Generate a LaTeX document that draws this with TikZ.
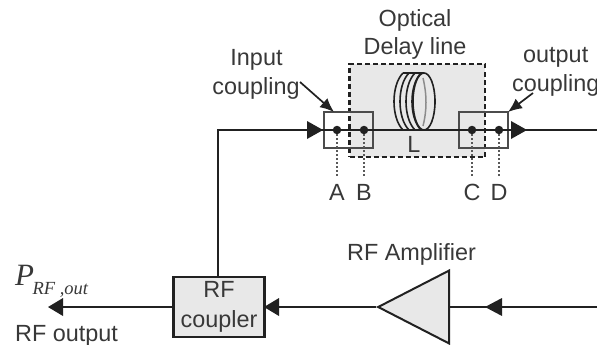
\documentclass[tikz,border=0pt]{standalone}
\usepackage{fontspec}
\setmainfont{Liberation Sans}
\newfontfamily\serifit[Ligatures=TeX]{Liberation Serif}
\usetikzlibrary{arrows.meta,shapes.geometric,calc}
\definecolor{lineK}{gray}{0.13}
\definecolor{txtK}{gray}{0.22}
\definecolor{fillG}{gray}{0.91}
\tikzset{
  lbl/.style={font=\fontsize{23.4}{30}\selectfont,text=txtK,inner sep=0pt,align=center},
  btxt/.style={lbl,anchor=base},
  wire/.style={line width=2.7pt,draw=lineK},
  boxthin/.style={draw=black!70,line width=1.6pt},
  dashbox/.style={draw=lineK,line width=2.2pt,dash pattern=on 5pt off 3pt,fill=fillG},
  dotline/.style={draw=black!65,line width=1.8pt,dash pattern=on 2pt off 2pt},
  pt/.style={circle,fill=lineK,inner sep=0pt,minimum size=8.5pt},
  coil/.style={draw=lineK,line width=1.6pt},
  thinarrow/.style={draw=lineK,line width=1.7pt,-{Latex[length=14pt,width=12pt]}},
}
\begin{document}
\begin{tikzpicture}[x=1pt,y=-1pt]
\useasboundingbox (0,0) rectangle (597,345);
\clip (0,0) rectangle (597,345);
% delay line
\node[dashbox,minimum width=135.5pt,minimum height=93pt,inner sep=0pt] (delay) at (417.25,110.5) {};
% main wires
\coordinate (topR) at (597,130);
\coordinate (corner) at (218,130);
\coordinate (botR) at (597,307);
% couplers
\node[boxthin,minimum width=49pt,minimum height=36pt,inner sep=0pt] (inbox) at (348.5,130) {};
\node[boxthin,minimum width=49pt,minimum height=36pt,inner sep=0pt] (outbox) at (483.5,130) {};
% points
\node[pt] (A) at (337,130) {};
\node[pt] (B) at (364,130) {};
\node[pt] (C) at (472,130) {};
\node[pt] (D) at (499,130) {};
% rf coupler & amp
\node[draw=lineK,line width=2.5pt,fill=fillG,minimum width=91pt,minimum height=60pt,inner sep=0pt,lbl] (coupler) at (219,307) {RF\\coupler};
\node[draw=lineK,line width=2pt,fill=fillG,isosceles triangle,isosceles triangle apex angle=54.4,shape border rotate=180,minimum height=71pt,inner sep=0pt,anchor=apex] (amp) at (376,307) {};
% wires
\draw[wire] (coupler.north -| corner) -- (corner) -- (A);
\draw[wire] (A) -- (D) -- (topR);
\draw[wire] (botR) -- (amp.lower side |- botR);
\draw[wire] (amp.apex) -- (coupler.east);
\coordinate (pout) at (50,307);
\draw[wire] (coupler.west) -- (pout);
% arrowheads
\coordinate (h1a) at (307,130); \coordinate (h1b) at (323,130);
\coordinate (h2a) at (511,130); \coordinate (h2b) at (527,130);
\coordinate (h3a) at (502,307); \coordinate (h3b) at (485,307);
\coordinate (h4a) at (279,307); \coordinate (h4b) at (264,307);
\coordinate (h5a) at (63,307); \coordinate (h5b) at (48,307);
\foreach \a/\b in {h1a/h1b,h2a/h2b,h3a/h3b,h4a/h4b,h5a/h5b}{
  \fill[lineK] (\b) -- ($(\a)+(0,9)$) -- ($(\a)+(0,-9)$) -- cycle;
}
% coil
\foreach \x in {394,400,406,412}{
  \draw[coil] (\x+9,130) .. controls (\x-3,118) and (\x-3,85) .. (\x+9,73);
}
\draw[coil] (403,73) -- (424,73);
\draw[draw=black!45,line width=1.5pt] (423,78) .. controls (427,95) and (427,110) .. (423,126);
\draw[coil] (424,101.5) ellipse [x radius=11,y radius=28.5];
% dotted droppers
\coordinate (Ae) at (337,176); \coordinate (Be) at (364,176);
\coordinate (Ce) at (472,176); \coordinate (De) at (499,176);
\draw[dotline] (A) -- (Ae); \draw[dotline] (B) -- (Be);
\draw[dotline] (C) -- (Ce); \draw[dotline] (D) -- (De);
% labels
\node[btxt] (lA) at (337,200) {A};
\node[btxt] (lB) at (364,200) {B};
\node[btxt] (lC) at (472,200) {C};
\node[btxt] (lD) at (499,200) {D};
\node[btxt] (lL) at (414,152) {L};
\node[btxt] (opt) at (415,27) {Optical};
\node[btxt] (dl) at (415,55) {Delay line};
\node[btxt] (inp) at (256.5,66) {Input};
\node[btxt] (inc) at (256,94) {coupling};
\node[lbl,anchor=base west] (outa) at (523,63) {output};
\node[lbl,anchor=base west] (outc) at (512,92) {coupling};
\coordinate (ia) at (300,82); \coordinate (ib) at (334,112);
\coordinate (oa) at (533,93); \coordinate (ob) at (508,112);
\draw[thinarrow] (ia) -- (ib);
\draw[thinarrow] (oa) -- (ob);
\node[btxt] (ampl) at (411.5,260) {RF Amplifier};
\node[lbl,anchor=base west] (rfo) at (15,341) {RF output};
\node[anchor=base west,inner sep=0pt,text=txtK] (pw) at (15,285) {\serifit\itshape\fontsize{31}{31}\selectfont P\kern-1.5pt\raisebox{-9pt}{\fontsize{18.5}{18.5}\selectfont RF ,out}};
\end{tikzpicture}
\end{document}
